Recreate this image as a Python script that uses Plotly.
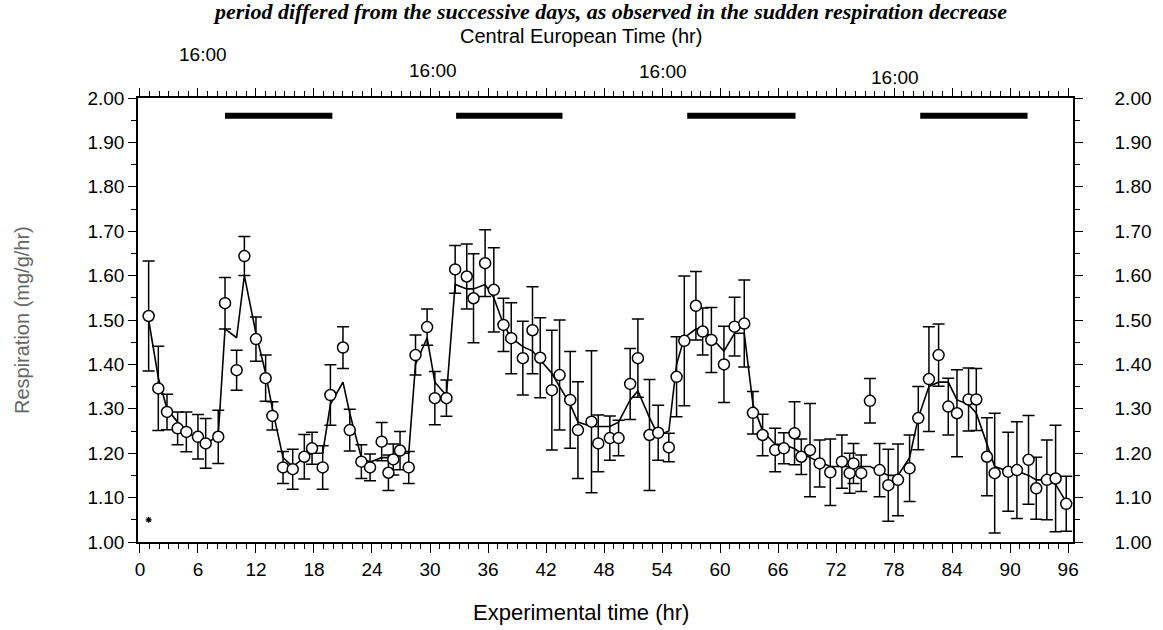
import plotly.graph_objects as go

hours = [0.9, 1.9, 2.8, 3.9, 4.8, 6.0, 6.8, 8.1, 8.8, 10.0, 10.8, 12.0, 13.0, 13.7, 14.8, 15.8, 17.0, 17.8, 18.9, 19.7,
         21.0, 21.7, 22.9, 23.8, 25.0, 25.7, 26.2, 26.9, 27.8, 28.5, 29.7, 30.5, 31.7, 32.6, 33.8, 34.5, 35.7, 36.6, 37.6, 38.4,
         39.6, 40.6, 41.4, 42.6, 43.4, 44.5, 45.3, 46.7, 47.4, 48.6, 49.5, 50.7, 51.5, 52.7, 53.6, 54.7, 55.5, 56.3, 57.5, 58.2,
         59.1, 60.4, 61.5, 62.5, 63.4, 64.4, 65.7, 66.6, 67.7, 68.4, 69.3, 70.3, 71.4, 72.6, 73.4, 73.8, 74.6, 75.5, 76.5, 77.4,
         78.4, 79.6, 80.5, 81.6, 82.6, 83.6, 84.5, 85.7, 86.5, 87.6, 88.4, 89.8, 90.7, 91.9, 92.7, 93.8, 94.7, 95.8]

respiration = [1.509, 1.346, 1.293, 1.256, 1.248, 1.237, 1.222, 1.237, 1.538, 1.387, 1.644, 1.457, 1.369, 1.284, 1.168, 1.164, 1.192, 1.211, 1.168, 1.331,
               1.438, 1.252, 1.181, 1.168, 1.226, 1.156, 1.186, 1.206, 1.168, 1.421, 1.484, 1.324, 1.324, 1.614, 1.598, 1.549, 1.628, 1.568, 1.489, 1.459,
               1.414, 1.477, 1.415, 1.342, 1.376, 1.320, 1.252, 1.271, 1.222, 1.234, 1.234, 1.356, 1.414, 1.241, 1.246, 1.213, 1.372, 1.453, 1.532, 1.474,
               1.455, 1.400, 1.485, 1.492, 1.291, 1.241, 1.207, 1.211, 1.245, 1.192, 1.207, 1.177, 1.157, 1.181, 1.155, 1.177, 1.155, 1.318, 1.162, 1.128,
               1.140, 1.166, 1.279, 1.367, 1.421, 1.305, 1.290, 1.321, 1.321, 1.192, 1.155, 1.158, 1.162, 1.185, 1.121, 1.140, 1.143, 1.086]

errors = [0.124, 0.095, 0.040, 0.037, 0.045, 0.050, 0.056, 0.060, 0.058, 0.045, 0.044, 0.050, 0.052, 0.032, 0.036, 0.045, 0.050, 0.036, 0.049, 0.068,
          0.047, 0.047, 0.038, 0.030, 0.043, 0.040, 0.035, 0.043, 0.036, 0.045, 0.041, 0.060, 0.041, 0.054, 0.073, 0.100, 0.075, 0.095, 0.060, 0.080,
          0.083, 0.098, 0.090, 0.135, 0.124, 0.109, 0.109, 0.160, 0.064, 0.050, 0.040, 0.080, 0.088, 0.125, 0.062, 0.032, 0.090, 0.146, 0.077, 0.053,
          0.073, 0.086, 0.066, 0.098, 0.048, 0.047, 0.049, 0.035, 0.071, 0.040, 0.105, 0.053, 0.075, 0.060, 0.045, 0.045, 0.041, 0.050, 0.060, 0.081,
          0.081, 0.075, 0.071, 0.118, 0.070, 0.064, 0.098, 0.071, 0.070, 0.088, 0.135, 0.089, 0.109, 0.100, 0.070, 0.090, 0.120, 0.062]

smoothed = [1.50, 1.37, 1.30, 1.27, 1.25, 1.23, 1.22, 1.24, 1.48, 1.46, 1.60, 1.47, 1.38, 1.30, 1.19, 1.17, 1.19, 1.20, 1.20, 1.31,
            1.36, 1.29, 1.19, 1.18, 1.19, 1.19, 1.19, 1.20, 1.20, 1.40, 1.46, 1.36, 1.33, 1.58, 1.57, 1.57, 1.58, 1.55, 1.49, 1.46,
            1.44, 1.43, 1.41, 1.38, 1.35, 1.31, 1.27, 1.26, 1.26, 1.26, 1.27, 1.32, 1.34, 1.28, 1.24, 1.25, 1.40, 1.46, 1.48, 1.48,
            1.46, 1.43, 1.47, 1.47, 1.31, 1.25, 1.22, 1.22, 1.21, 1.20, 1.19, 1.18, 1.17, 1.17, 1.17, 1.17, 1.17, 1.17, 1.16, 1.15,
            1.15, 1.19, 1.28, 1.35, 1.36, 1.36, 1.32, 1.31, 1.29, 1.22, 1.17, 1.16, 1.16, 1.15, 1.14, 1.14, 1.13, 1.09]

dark_start = [8.8, 32.7, 56.6, 80.7]
dark_end = [19.9, 43.7, 67.8, 91.8]
dark_level = 1.96

cet_label_pos = [6.5, 30.3, 54.1, 78.1]
cet_label_y = [1.097, 1.063, 1.059, 1.047]
cet_labels = ["16:00", "16:00", "16:00", "16:00"]

x_ticks = list(range(0, 97, 6))
y_ticks = [1.0 + i * 0.1 for i in range(11)]
y_tick_text = ["%.2f" % v for v in y_ticks]

FONT = "Liberation Sans, Arial, sans-serif"

fig = go.Figure()

# dark-period bars
for s, e in zip(dark_start, dark_end):
    fig.add_trace(go.Scatter(x=[s, e], y=[dark_level, dark_level], mode="lines",
                             line=dict(color="black", width=6), hoverinfo="skip", showlegend=False))

fig.add_trace(go.Scatter(x=hours, y=smoothed, mode="lines",
                         line=dict(color="black", width=1.6), showlegend=False))

fig.add_trace(go.Scatter(x=hours, y=respiration, mode="markers",
                         marker=dict(symbol="circle", size=11, color="white",
                                     line=dict(color="black", width=1.5)),
                         error_y=dict(type="data", array=errors, visible=True,
                                      color="black", thickness=1.5, width=6),
                         showlegend=False))

fig.add_trace(go.Scatter(x=[0.9], y=[1.05], mode="markers",
                         marker=dict(symbol="asterisk-open", size=5, color="black",
                                     line=dict(color="black", width=1.2)),
                         showlegend=False))

# invisible trace to activate secondary axes
fig.add_trace(go.Scatter(x=[0], y=[1.5], xaxis="x2", yaxis="y2", mode="markers",
                         marker=dict(opacity=0), hoverinfo="skip", showlegend=False))

axis_common = dict(showgrid=False, zeroline=False, showline=True, linecolor="black", linewidth=1.5,
                   ticks="outside", tickcolor="black", tickwidth=1.3, automargin=False,
                   tickfont=dict(family=FONT, size=19, color="black"))

fig.update_layout(
    width=1163, height=630,
    margin=dict(l=138, r=90, t=98, b=88),
    paper_bgcolor="white", plot_bgcolor="white",
    xaxis=dict(range=[-0.2, 96.5], tickvals=x_ticks, ticklen=9,
               minor=dict(dtick=1, tick0=0, ticklen=5, ticks="outside", tickcolor="black", tickwidth=1),
               **axis_common),
    xaxis2=dict(range=[-0.2, 96.5], overlaying="x", side="top", tickvals=x_ticks, ticklen=8,
                showticklabels=False,
                minor=dict(dtick=1, tick0=0, ticklen=5, ticks="outside", tickcolor="black", tickwidth=1),
                **axis_common),
    yaxis=dict(range=[1.0, 2.0], tickvals=y_ticks, ticktext=y_tick_text, ticklen=8,
               minor=dict(dtick=0.05, tick0=1.0, ticklen=5, ticks="outside", tickcolor="black", tickwidth=1),
               **axis_common),
    yaxis2=dict(range=[1.0, 2.0], overlaying="y", side="right", tickvals=y_ticks, ticktext=y_tick_text,
                ticklen=8, ticklabelstandoff=28,
                minor=dict(dtick=0.05, tick0=1.0, ticklen=5, ticks="outside", tickcolor="black", tickwidth=1),
                **axis_common),
)

annotations = [
    dict(text="Respiration (mg/g/hr)", xref="paper", yref="paper", x=-0.124, y=0.5,
         xanchor="center", yanchor="middle",
         textangle=-90, showarrow=False, font=dict(family=FONT, size=20, color="#666666")),
    dict(text="Experimental time (hr)", xref="paper", yref="paper", x=0.474, y=-0.158,
         xanchor="center", yanchor="middle",
         showarrow=False, font=dict(family=FONT, size=22, color="black")),
    dict(text="Central European Time (hr)", xref="paper", yref="paper", x=0.474, y=1.14,
         xanchor="center", yanchor="middle",
         showarrow=False, font=dict(family=FONT, size=20, color="black")),
    dict(text="period differed from the successive days, as observed in the sudden respiration decrease",
         xref="paper", yref="paper", x=0.505, y=1.194, xanchor="center", yanchor="middle", showarrow=False,
         font=dict(family="Liberation Serif, Times New Roman, serif", size=22, color="black",
                   weight="bold", style="italic")),
]
for xp, yp, t in zip(cet_label_pos, cet_label_y, cet_labels):
    annotations.append(dict(text=t, xref="x", yref="paper", x=xp, y=yp, showarrow=False,
                            xanchor="center", yanchor="middle",
                            font=dict(family=FONT, size=19, color="black")))
fig.update_layout(annotations=annotations)

fig.write_html("out.html", config={"displayModeBar": False},
               post_script="document.body.style.margin='0px';")
